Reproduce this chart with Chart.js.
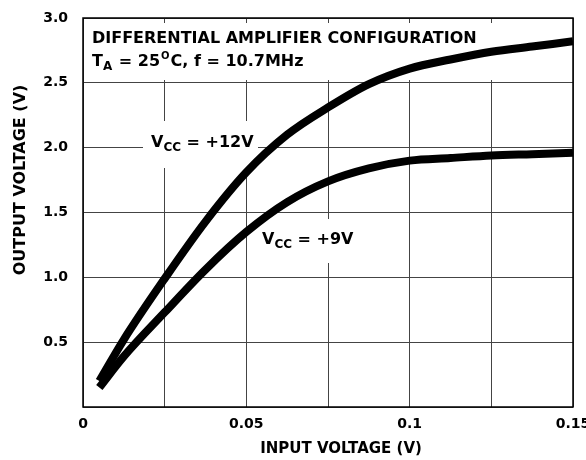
<!DOCTYPE html>
<html>
<head>
<meta charset="utf-8">
<script src="https://cdn.jsdelivr.net/npm/chart.js@4.4.1/dist/chart.umd.min.js"></script>
<style>
  html, body { margin: 0; padding: 0; background: #fff; }
  #wrap { width: 586px; height: 460px; position: relative; }
</style>
</head>
<body>
<div id="wrap"><canvas id="c" width="586" height="460"></canvas></div>
<script>
// Data (input voltage in V, output voltage in V)
const vin = [0.005, 0.0125, 0.025, 0.0375, 0.05, 0.0625, 0.075, 0.0875, 0.1, 0.1125, 0.125, 0.1375, 0.15];
const vout12 = [0.20, 0.52, 0.99, 1.43, 1.81, 2.10, 2.31, 2.49, 2.61, 2.68, 2.74, 2.78, 2.82];
const vout9  = [0.15, 0.39, 0.73, 1.06, 1.35, 1.58, 1.74, 1.84, 1.90, 1.92, 1.94, 1.95, 1.96];
const xTickValues = [0, 0.025, 0.05, 0.075, 0.1, 0.125, 0.15];
const xTickLabels = ['0', '', '0.05', '', '0.1', '', '0.15'];
const yTickValues = [0, 0.5, 1.0, 1.5, 2.0, 2.5, 3.0];
const yTickLabels = ['', '0.5', '1.0', '1.5', '2.0', '2.5', '3.0'];
const titleLine1 = "DIFFERENTIAL AMPLIFIER CONFIGURATION";
const xTitle = "INPUT VOLTAGE (V)";
const yTitle = "OUTPUT VOLTAGE (V)";

const FONT = '"DejaVu Sans", "Liberation Sans", Arial, sans-serif';

function pts(xs, ys) { return xs.map((x, i) => ({ x: x, y: ys[i] })); }

function drawRich(ctx, parts, x, y) {
  // parts: [text, size, dy, extra gap]
  let cx = x;
  for (const p of parts) {
    ctx.font = 'bold ' + p[1] + 'px ' + FONT;
    ctx.fillText(p[0], cx, y + (p[2] || 0));
    cx += ctx.measureText(p[0]).width + (p[3] || 0);
  }
  return cx;
}

const annot = {
  id: 'annot',
  beforeDatasetsDraw(chart) {
    const ctx = chart.ctx, a = chart.chartArea;
    ctx.save();
    // white boxes behind text (they interrupt gridlines, as in the reference)
    ctx.fillStyle = '#fff';
    ctx.fillRect(a.left + 1, 23, 415, 57);
    ctx.fillRect(143, 121, 115, 47);
    ctx.fillRect(257, 219, 103, 44);
    ctx.fillStyle = '#000';
    ctx.textBaseline = 'alphabetic';
    ctx.textAlign = 'left';
    // title block
    ctx.font = 'bold 16px ' + FONT;
    ctx.fillText(titleLine1, 92, 43);
    drawRich(ctx, [['T', 16, 0, 0], ['A', 12, 4, 1], [' = 25', 16, 0, 1], ['O', 10, -7, 1], ['C, f = 10.7MHz', 16, 0]], 92, 66);
    // curve labels
    drawRich(ctx, [['V', 16, 0, 0], ['CC', 12, 4, 0], [' = +12V', 16, 0]], 151, 147);
    drawRich(ctx, [['V', 16, 0, 0], ['CC', 12, 4, 0], [' = +9V', 16, 0]], 262, 244);
    // axis titles
    ctx.textAlign = 'center';
    ctx.textBaseline = 'middle';
    ctx.font = 'bold 15px ' + FONT;
    ctx.fillText(xTitle, 341, 449);
    ctx.translate(21, 180);
    ctx.rotate(-Math.PI / 2);
    ctx.font = 'bold 16px ' + FONT;
    ctx.fillText(yTitle, 0, 0);
    ctx.restore();
  },
  afterDatasetsDraw(chart) {
    const ctx = chart.ctx, a = chart.chartArea;
    ctx.save();
    ctx.strokeStyle = '#000';
    ctx.lineWidth = 1.5;
    ctx.strokeRect(a.left, a.top, a.right - a.left, a.bottom - a.top);
    ctx.restore();
  }
};

new Chart(document.getElementById('c'), {
  type: 'scatter',
  data: {
    datasets: [
      { label: 'VCC = +12V', data: pts(vin, vout12), showLine: true, borderColor: '#000', borderWidth: 8,
        pointRadius: 0, cubicInterpolationMode: 'monotone', borderCapStyle: 'butt', fill: false },
      { label: 'VCC = +9V', data: pts(vin, vout9), showLine: true, borderColor: '#000', borderWidth: 8,
        pointRadius: 0, cubicInterpolationMode: 'monotone', borderCapStyle: 'butt', fill: false }
    ]
  },
  options: {
    responsive: false,
    animation: false,
    devicePixelRatio: 1,
    layout: { padding: { top: 18, right: 13, left: 0, bottom: 0 } },
    plugins: { legend: { display: false }, tooltip: { enabled: false } },
    scales: {
      x: {
        type: 'linear', min: 0, max: 0.15,
        afterFit(s) { s.height = 53; s.paddingLeft = 0; s.paddingRight = 0; },
        afterBuildTicks(s) { s.ticks = xTickValues.map(v => ({ value: v })); },
        ticks: {
          autoSkip: false, maxRotation: 0, padding: 9, color: '#000',
          font: { family: FONT, size: 14, weight: 'bold' },
          callback(v, i) { return xTickLabels[i]; }
        },
        grid: { color: '#444', lineWidth: 1, drawTicks: false },
        border: { display: false }
      },
      y: {
        type: 'linear', min: 0, max: 3.0,
        afterFit(s) { s.width = 83; s.paddingTop = 0; s.paddingBottom = 0; },
        afterBuildTicks(s) { s.ticks = yTickValues.map(v => ({ value: v })); },
        ticks: {
          padding: 15, color: '#000',
          font: { family: FONT, size: 14, weight: 'bold' },
          callback(v, i) { return yTickLabels[i]; }
        },
        grid: { color: '#444', lineWidth: 1, drawTicks: false },
        border: { display: false }
      }
    }
  },
  plugins: [annot]
});
</script>
</body>
</html>
